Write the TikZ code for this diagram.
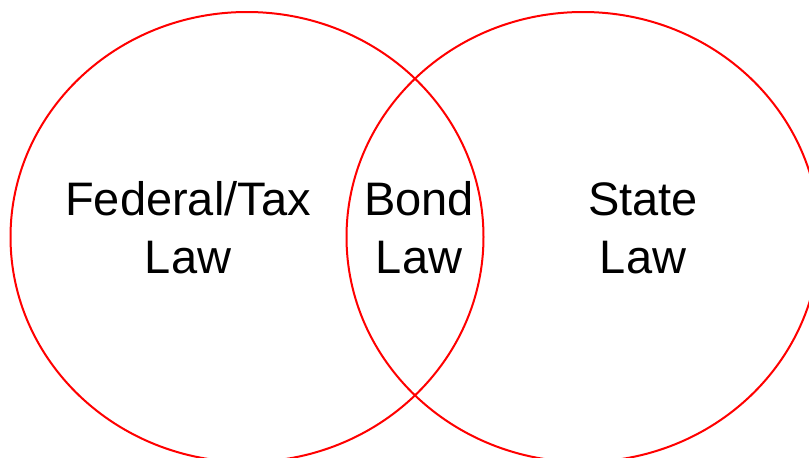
\documentclass[tikz,border=0pt]{standalone}
\usepackage{fontspec}
\setmainfont{Liberation Sans}
\usetikzlibrary{shapes.geometric}
\begin{document}
\begin{tikzpicture}[
        x=1pt, y=-1pt,
        lawset/.style={
            ellipse,
            draw=red,
            line width=2pt,
            minimum width=473pt,
            minimum height=450pt,
            inner sep=0pt
        },
        lawtext/.style={
            align=center,
            anchor=base,
            inner sep=0pt,
            font=\fontsize{47}{58}\selectfont
        }
    ]
    \useasboundingbox (0,0) rectangle (809,458);
    % Conjuntos
    \node[lawset] (federal) at (247, 237) {};
    \node[lawset] (state) at (583, 237) {};
    % Textos
    \node[lawtext] (federaltxt) at (188, 273) {Federal/Tax\\Law};
    \node[lawtext] (bondtxt) at (419, 273) {Bond\\Law};
    \node[lawtext] (statetxt) at (643, 273) {State\\Law};
\end{tikzpicture}
\end{document}
